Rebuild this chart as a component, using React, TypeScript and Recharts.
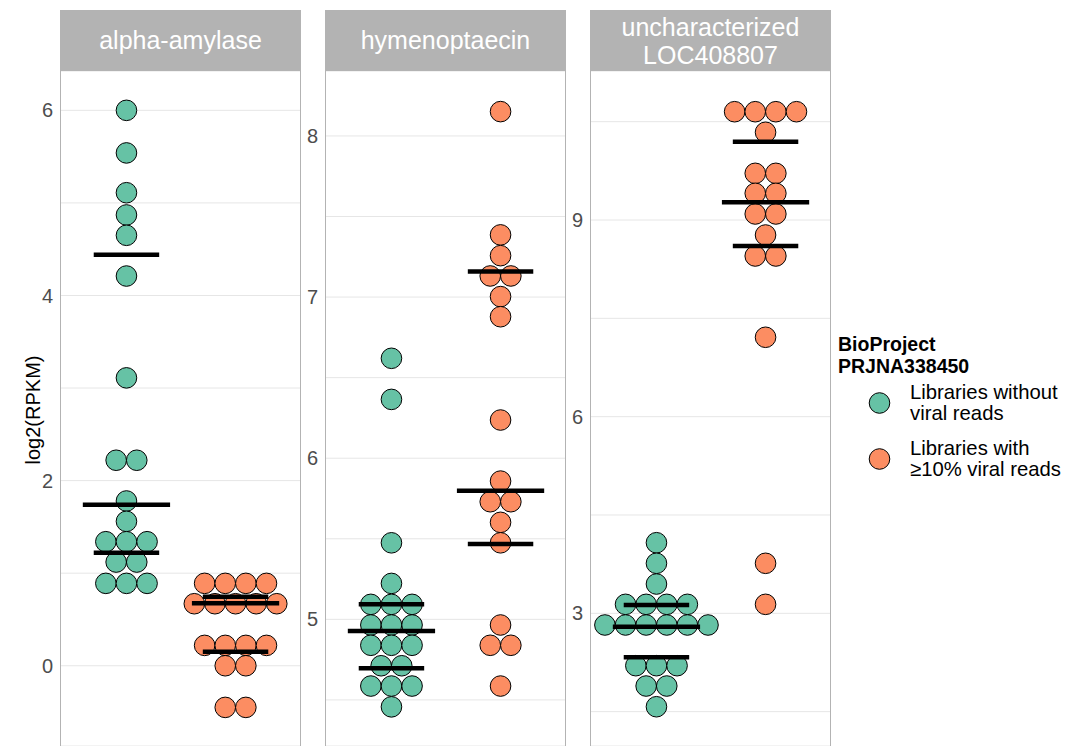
import React from "react"
import { ScatterChart, Scatter, XAxis, YAxis, CartesianGrid } from "recharts"

const GREEN = "#66C2A5"
const ORANGE = "#FC8D62"
const FONT = '"Liberation Sans", Arial, Helvetica, sans-serif'

const groupLabels = [
  ["Libraries without", "viral reads"],
  ["Libraries with", "≥10% viral reads"],
]

// log2(RPKM) per library; equal values share one bin and are stacked side by side
const amylaseWithout = [6.0, 5.54, 5.11, 4.87, 4.65, 4.21, 3.11, 2.22, 2.22, 1.78, 1.56, 1.34, 1.34, 1.34, 1.12, 1.12, 0.89, 0.89, 0.89]
const amylaseWith = [0.89, 0.89, 0.89, 0.89, 0.67, 0.67, 0.67, 0.67, 0.67, 0.22, 0.22, 0.22, 0.22, 0.0, 0.0, -0.45, -0.45]

const hymenoWithout = [6.62, 6.365, 5.475, 5.223, 5.093, 5.093, 5.093, 4.965, 4.965, 4.965, 4.839, 4.839, 4.839, 4.712, 4.712, 4.586, 4.586, 4.586, 4.457]
const hymenoWith = [8.151, 7.386, 7.257, 7.131, 7.131, 7.003, 6.878, 6.237, 5.858, 5.73, 5.73, 5.602, 5.475, 4.965, 4.839, 4.839, 4.586]

const locWithout = [4.077, 3.763, 3.447, 3.137, 3.137, 3.137, 3.137, 2.822, 2.822, 2.822, 2.822, 2.822, 2.822, 2.201, 2.201, 2.201, 1.891, 1.891, 1.575]
const locWith = [10.652, 10.652, 10.652, 10.652, 10.338, 9.712, 9.712, 9.407, 9.407, 9.092, 9.092, 8.771, 8.451, 8.451, 7.211, 3.763, 3.137]

// 25th, 50th, 75th percentiles
const amylaseQWithout = [1.22, 1.74, 4.44]
const amylaseQWith = [0.151, 0.674, 0.745]
const hymenoQWithout = [4.696, 4.927, 5.093]
const hymenoQWith = [5.467, 5.798, 7.158]
const locQWithout = [2.329, 2.796, 3.127]
const locQWith = [8.604, 9.27, 10.195]

const amylaseGrid = [0, 1, 2, 3, 4, 5, 6]
const amylaseTicks = [0, 2, 4, 6]
const hymenoGrid = [4.5, 5, 5.5, 6, 6.5, 7, 7.5, 8]
const hymenoTicks = [5, 6, 7, 8]
const locGrid = [1.5, 3, 4.5, 6, 7.5, 9, 10.5]
const locTicks = [3, 6, 9]

const panels = [
  { title: ["alpha-amylase"], without: amylaseWithout, withViral: amylaseWith, qWithout: amylaseQWithout, qWith: amylaseQWith, domain: [-0.867, 6.425], grid: amylaseGrid, ticks: amylaseTicks },
  { title: ["hymenoptaecin"], without: hymenoWithout, withViral: hymenoWith, qWithout: hymenoQWithout, qWith: hymenoQWith, domain: [4.214, 8.403], grid: hymenoGrid, ticks: hymenoTicks },
  { title: ["uncharacterized", "LOC408807"], without: locWithout, withViral: locWith, qWithout: locQWithout, qWith: locQWith, domain: [0.976, 11.273], grid: locGrid, ticks: locTicks },
]

const DOT_STEP = 0.189
const DOT_R = 10.3
const PANEL_LEFT = [61, 326, 591]
const PANEL_W = 240
const AXIS_W = 60
const TOP = 71
const PLOT_H = 675

function stackDots(values: number[], center: number) {
  const counts = new Map<number, number>()
  values.forEach((v) => counts.set(v, (counts.get(v) || 0) + 1))
  const seen = new Map<number, number>()
  return values.map((v) => {
    const n = counts.get(v) || 1
    const k = seen.get(v) || 0
    seen.set(v, k + 1)
    return { x: center + (k - (n - 1) / 2) * DOT_STEP, y: v }
  })
}

function quantileSegments(q: number[], center: number) {
  const half = [0.3, 0.4, 0.3]
  return q.map((v, i) => [
    { x: center - half[i], y: v },
    { x: center + half[i], y: v },
  ])
}

const dot = (fill: string) => (props: any) => (
  <circle cx={props.cx} cy={props.cy} r={DOT_R} fill={fill} stroke="#000" strokeWidth={1} />
)

const noShape = () => <g />

const makeTick = (labels: number[]) => (props: any) => {
  const { x, y, payload } = props
  if (!labels.includes(payload.value)) return <g />
  return (
    <text x={x} y={y} dy="0.355em" textAnchor="end" fill="#4D4D4D" fontSize={20} fontFamily={FONT}>
      {payload.value}
    </text>
  )
}

function Panel({ p, left }: { p: (typeof panels)[number]; left: number }) {
  const segs = [...quantileSegments(p.qWithout, 1), ...quantileSegments(p.qWith, 2)]
  return (
    <div style={{ position: "absolute", left: left - AXIS_W, top: TOP }}>
      <ScatterChart width={AXIS_W + PANEL_W} height={PLOT_H} margin={{ top: 0, right: 0, bottom: 0, left: 0 }}>
        <CartesianGrid vertical={false} stroke="#E6E6E6" strokeWidth={1} />
        <XAxis type="number" dataKey="x" domain={[0.4, 2.6]} allowDataOverflow hide />
        <YAxis
          type="number"
          dataKey="y"
          width={AXIS_W}
          domain={p.domain}
          allowDataOverflow
          ticks={p.grid}
          interval={0}
          tickLine={false}
          axisLine={false}
          tick={makeTick(p.ticks)}
        />
        <Scatter data={stackDots(p.without, 1)} shape={dot(GREEN)} isAnimationActive={false} />
        <Scatter data={stackDots(p.withViral, 2)} shape={dot(ORANGE)} isAnimationActive={false} />
        {segs.map((s, i) => (
          <Scatter key={i} data={s} shape={noShape} line={{ stroke: "#000", strokeWidth: 4.5 }} isAnimationActive={false} />
        ))}
      </ScatterChart>
    </div>
  )
}

export default function App() {
  return (
    <div style={{ position: "absolute", left: 0, top: 0, width: 1075, height: 746, background: "#fff", overflow: "hidden", fontFamily: FONT }}>
      {panels.map((p, i) => (
        <Panel key={i} p={p} left={PANEL_LEFT[i]} />
      ))}
      <svg width={1075} height={746} style={{ position: "absolute", left: 0, top: 0, pointerEvents: "none" }}>
        {panels.map((p, i) => {
          const l = PANEL_LEFT[i]
          return (
            <g key={i}>
              <rect x={l - 1} y={10} width={PANEL_W + 1} height={61} fill="#B3B3B3" />
              <line x1={l - 0.5} x2={l - 0.5} y1={71} y2={746} stroke="#B3B3B3" strokeWidth={1} />
              <line x1={l + PANEL_W - 0.5} x2={l + PANEL_W - 0.5} y1={71} y2={746} stroke="#B3B3B3" strokeWidth={1} />
              <text x={l + PANEL_W / 2 - 0.5} textAnchor="middle" fill="#fff" fontSize={25} fontFamily={FONT}>
                {p.title.map((t, j) => (
                  <tspan key={j} x={l + PANEL_W / 2 - 0.5} y={p.title.length === 1 ? 49 : 36 + j * 28}>
                    {t}
                  </tspan>
                ))}
              </text>
            </g>
          )
        })}
        <text transform="translate(40,410) rotate(-90)" textAnchor="middle" fontSize={20} fill="#000" fontFamily={FONT}>
          log2(RPKM)
        </text>
        <text x={838} fontSize={19.5} fontWeight="bold" fill="#000" fontFamily={FONT}>
          <tspan x={838} y={351}>BioProject</tspan>
          <tspan x={838} y={373}>PRJNA338450</tspan>
        </text>
        {groupLabels.map((lines, i) => (
          <g key={i}>
            <circle cx={879.5} cy={403 + i * 56} r={DOT_R} fill={i === 0 ? GREEN : ORANGE} stroke="#000" strokeWidth={1} />
            <text x={910} fontSize={20.3} fill="#000" fontFamily={FONT}>
              {lines.map((t, j) => (
                <tspan key={j} x={910} y={399 + i * 56 + j * 21}>
                  {t}
                </tspan>
              ))}
            </text>
          </g>
        ))}
      </svg>
    </div>
  )
}
